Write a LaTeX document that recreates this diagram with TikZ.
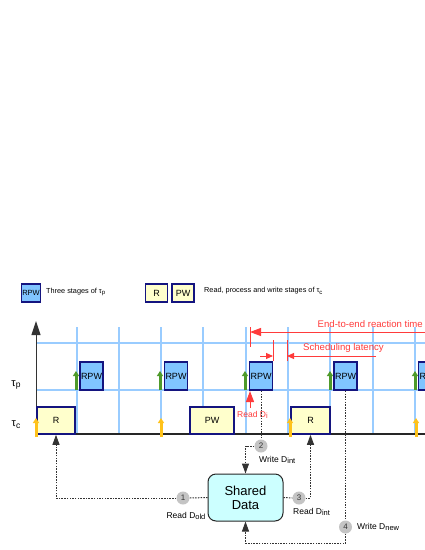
\documentclass[tikz,border=0pt]{standalone}
\usepackage{fontspec}
\setmainfont{Liberation Sans}
\usetikzlibrary{arrows.meta}
\definecolor{navy}{HTML}{14147F}
\definecolor{rpwfill}{HTML}{80C4FF}
\definecolor{cfill}{HTML}{FFFFCC}
\definecolor{gridblue}{HTML}{99CCFF}
\definecolor{greenarr}{HTML}{4E9A2A}
\definecolor{yellowarr}{HTML}{FFC21A}
\definecolor{redc}{HTML}{FF3B3B}
\definecolor{shared}{HTML}{CCFFFF}
\definecolor{circ}{HTML}{C4C4C4}
\newcommand{\fs}[1]{\fontsize{#1}{#1}\selectfont}
\newcommand{\sbs}[2]{\raisebox{-0.3ex}{\fs{#1}#2}}
\begin{document}
\begin{tikzpicture}[x=1pt,y=-1pt,
  rpwbox/.style={draw=navy, line width=1.6pt, fill=rpwfill, minimum width=23pt, minimum height=28pt, inner sep=0pt, font=\fs{9}},
  legrpw/.style={rpwbox, minimum width=19pt, minimum height=18pt, font=\fs{7.5}},
  cbox/.style={draw=navy, line width=1.6pt, fill=cfill, minimum height=27pt, inner sep=0pt, font=\fs{9}},
  legc/.style={cbox, minimum height=18pt, minimum width=22pt},
  gridline/.style={gridblue, line width=1.2pt},
  relp/.style={greenarr, line width=3pt, -{Triangle[width=6pt,length=5pt]}},
  relc/.style={yellowarr, line width=3pt, -{Triangle[width=6pt,length=5pt]}},
  redline/.style={redc, line width=1pt},
  redarrow/.style={redc, line width=1pt, -{Triangle[width=8pt,length=11pt]}},
  redsmall/.style={redc, line width=1pt, -{Triangle[width=6pt,length=7pt]}},
  flow/.style={draw=black!80, line width=1pt, dash pattern=on 1.5pt off 1.2pt},
  flowarr/.style={flow, -{Triangle[width=7pt,length=10pt]}},
  numc/.style={circle, fill=circ, minimum size=13pt, inner sep=0pt, font=\fs{8}, text=black!80},
  lbl/.style={font=\fs{8.5}, inner sep=0pt},
  legtext/.style={font=\fs{7.3}, inner sep=0pt, anchor=west},
  redtext/.style={font=\fs{9.6}, text=redc, inner sep=0pt},
  tautext/.style={font=\fs{11}, inner sep=0pt}
]
\clip (0,0) rectangle (425,550);
\fill[white] (0,0) rectangle (425,550);

% legend
\node[legrpw] (lrpw) at (31,293) {RPW};
\node[legtext] (lt1) at (46,292) {Three stages of τ\sbs{6}{p}};
\node[legc] (lr) at (156.5,293) {R};
\node[legc] (lpw) at (183,293) {PW};
\node[legtext] (lt2) at (204,291) {Read, process and write stages of τ\sbs{6}{c}};

% grid
\foreach \x in {77,119,161,203,246,288,330,373,415}
  \draw[gridline] (\x,327) -- (\x,434);
\draw[gridline] (36,343) -- (430,343);
\draw[gridline] (36,390) -- (430,390);

% axis
\coordinate (axb) at (36,435);
\coordinate (axt) at (36,321);
\draw[black!80, line width=1pt, -{Triangle[width=9pt,length=14pt]}] (axb) -- (axt);
\coordinate (bl0) at (36,434);
\coordinate (bl1) at (430,434);
\draw[black!85, line width=1.3pt] (bl0) -- (bl1);

\node[tautext] (tp) at (16,385) {τ\sbs{8.5}{p}};
\node[tautext] (tc) at (16,425) {τ\sbs{8.5}{c}};

% tau_p jobs
\node[rpwbox] (p1) at (91.5,376) {RPW};
\node[rpwbox] (p2) at (176,376) {RPW};
\node[rpwbox] (p3) at (261,376) {RPW};
\node[rpwbox] (p4) at (345.5,376) {RPW};
\node[rpwbox] (p5) at (430,376) {RPW};
\foreach \x in {76,160,245,330,415}
  \draw[relp] (\x,390) -- (\x,371);

% tau_c jobs
\node[cbox, minimum width=38pt] (c1) at (56,420.5) {R};
\node[cbox, minimum width=44pt] (c2) at (212,420.5) {PW};
\node[cbox, minimum width=39pt] (c3) at (310.5,420.5) {R};
\foreach \x in {36,161,290,416}
  \draw[relc] (\x,437) -- (\x,418);

% red annotations
\node[redtext, anchor=east] (e2e) at (423,324) {End-to-end reaction time};
\coordinate (e2eR) at (430,332);
\coordinate (e2eL) at (250,332);
\draw[redarrow] (e2eR) -- (e2eL);
\draw[redline] (250,327) -- (250,347);
\node[redtext, anchor=west] (sl) at (303,348) {Scheduling latency};
\draw[redline] (273,340) -- (273,361);
\draw[redline] (287,340) -- (287,361);
\coordinate (slA) at (260,356);
\coordinate (slB) at (273,356);
\coordinate (slC) at (376,356);
\coordinate (slD) at (287,356);
\draw[redsmall] (slA) -- (slB);
\draw[redsmall] (slC) -- (slD);
\coordinate (rdA) at (250,408);
\coordinate (rdB) at (250,391);
\draw[redarrow] (rdA) -- (rdB);
\node[font=\fs{8.5}, text=redc, inner sep=0pt, anchor=west] (rdi) at (237,415) {Read D\sbs{7.5}{i}};

% shared data
\node[draw=black!85, line width=1pt, fill=shared, rounded corners=8pt, minimum width=75pt, minimum height=47pt, align=center, font=\fs{13}, inner sep=0pt] (sd) at (245.5,497.5) {Shared\\[1pt]Data};

\node[numc] (n1) at (183,498) {1};
\node[numc] (n2) at (261,446) {2};
\node[numc] (n3) at (299,498) {3};
\node[numc] (n4) at (345.5,527) {4};

\draw[flow] (p3.south) -- (n2.north);
\draw[flowarr] (n2.west) -| (sd.north);
\draw[flow] (sd.west) -- (n1.east);
\draw[flowarr] (n1.west) -| (c1.south);
\draw[flow] (sd.east) -- (n3.west);
\draw[flowarr] (n3.east) -| (c3.south);
\draw[flow] (p4.south) -- (n4.north);
\coordinate (k4) at (345.5,543);
\coordinate (k5) at (sd.south |- k4);
\draw[flowarr] (n4.south) -- (k4) -- (k5) -- (sd.south);

\node[lbl, anchor=west] (w2) at (259,460) {Write D\sbs{7.5}{int}};
\node[lbl] (r1) at (186,516) {Read D\sbs{7.5}{old}};
\node[lbl, anchor=west] (r3) at (293,512) {Read D\sbs{7.5}{int}};
\node[lbl, anchor=west] (w4) at (357,527) {Write D\sbs{7.5}{new}};
\end{tikzpicture}
\end{document}
